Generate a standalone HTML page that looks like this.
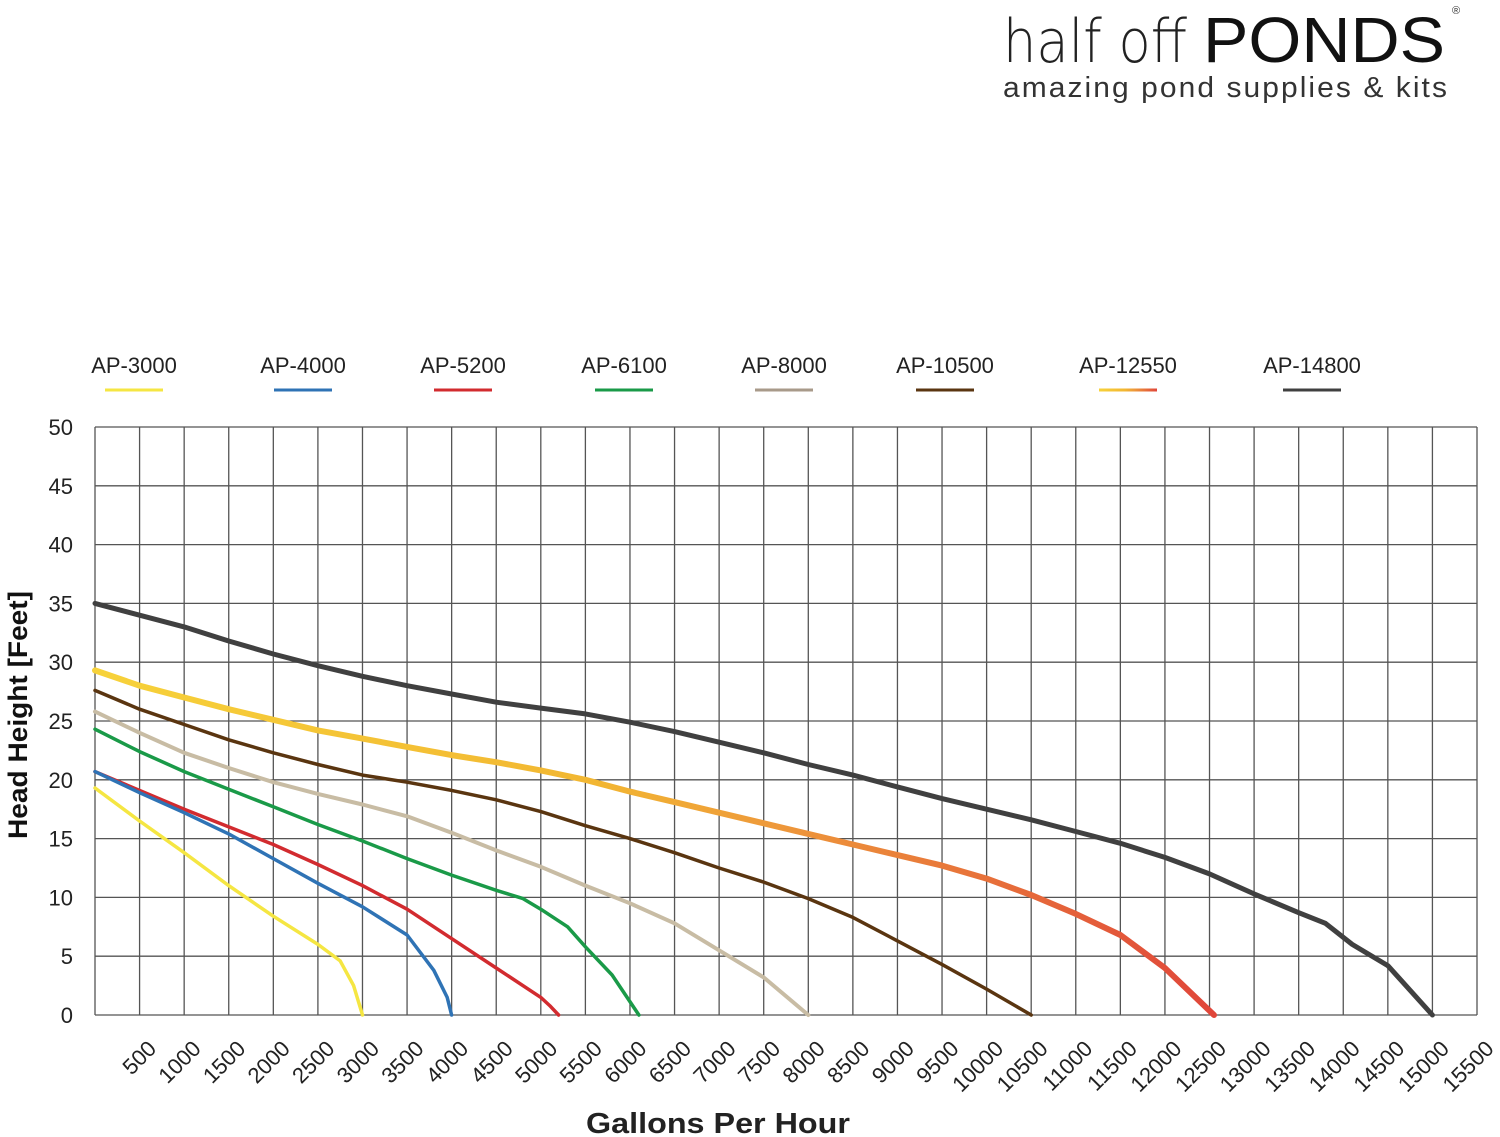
<!DOCTYPE html>
<html><head><meta charset="utf-8"><style>
body{margin:0;background:#fff}
svg{display:block}
text{font-family:"Liberation Sans",sans-serif}
</style></head><body>
<svg id="s" width="1500" height="1137" xmlns="http://www.w3.org/2000/svg">
<defs><linearGradient id="og" x1="0" x2="1" y1="0" y2="0"><stop offset="0" stop-color="#f7d23a"/><stop offset="0.45" stop-color="#f2b632"/><stop offset="0.6" stop-color="#ee9a3a"/><stop offset="1" stop-color="#e0463a"/></linearGradient></defs>
<text x="1003" y="62" font-size="60" fill="#222" style="font-family:'DejaVu Sans',sans-serif;font-weight:200" textLength="184" lengthAdjust="spacingAndGlyphs">half off</text>
<text x="1203" y="62" font-size="64" fill="#111" textLength="242" lengthAdjust="spacingAndGlyphs">PONDS</text>
<text x="1452" y="14" font-size="11" fill="#333">®</text>
<text x="1003" y="97" font-size="29" fill="#333" letter-spacing="2" textLength="446" lengthAdjust="spacingAndGlyphs">amazing pond supplies &amp; kits</text>
<g id="grid" stroke="#555" stroke-width="1.3" fill="none"></g>
<g id="lab" font-size="21" fill="#222"></g>
<g id="lines" fill="none" stroke-linejoin="round" stroke-linecap="round"></g>
<text transform="translate(27,715) rotate(-90)" text-anchor="middle" font-size="27" font-weight="bold" fill="#111" textLength="248" lengthAdjust="spacingAndGlyphs">Head Height [Feet]</text>
<text x="718" y="1133" text-anchor="middle" font-size="29" font-weight="bold" fill="#222" textLength="264" lengthAdjust="spacingAndGlyphs">Gallons Per Hour</text>
</svg>
<script>
const NS="http://www.w3.org/2000/svg";
const X=g=>95+g*(1382/15500), Y=h=>1015-h*11.76;
function el(p,t,a,txt){const e=document.createElementNS(NS,t);for(const k in a)e.setAttribute(k,a[k]);if(txt)e.textContent=txt;p.appendChild(e);return e;}
const grid=document.getElementById('grid'),lab=document.getElementById('lab'),lines=document.getElementById('lines');
for(let i=0;i<=31;i++){const x=X(i*500);el(grid,'line',{x1:x,x2:x,y1:Y(50),y2:Y(0)});}
for(let i=0;i<=10;i++){const y=Y(i*5);el(lab,'text',{x:73,y:y+8,'text-anchor':'end','font-size':22},String(i*5));el(grid,'line',{x1:95,x2:1477,y1:y,y2:y});}
for(let i=1;i<=31;i++){const x=X(i*500)+18;el(lab,'text',{transform:`translate(${x},1050) rotate(-45)`,'text-anchor':'end','font-size':22},String(i*500));}
const leg=[["AP-3000",134,"#f5e642"],["AP-4000",303,"#2f73b5"],["AP-5200",463,"#d22b2f"],["AP-6100",624,"#1a9a48"],["AP-8000",784,"#a89a8a"],["AP-10500",945,"#5a3510"],["AP-12550",1128,"url(#og)"],["AP-14800",1312,"#404040"]];
leg.forEach(([n,c,col])=>{el(lab,'text',{x:c,y:373,'text-anchor':'middle','font-size':22},n);el(lines,'rect',{x:c-29,y:388.5,width:58,height:3,fill:col,stroke:'none'});});
const S=[
["#404040",5,[[0,35],[500,34],[1000,33],[1500,31.8],[2000,30.7],[2500,29.7],[3000,28.8],[3500,28],[4000,27.3],[4500,26.6],[5000,26.1],[5500,25.6],[6000,24.9],[6500,24.1],[7000,23.2],[7500,22.3],[8000,21.3],[8500,20.4],[9000,19.4],[9500,18.4],[10000,17.5],[10500,16.6],[11000,15.6],[11500,14.6],[12000,13.4],[12500,12],[13000,10.3],[13500,8.7],[13800,7.8],[14100,6],[14500,4.2],[15000,0]]],
["url(#og)",6,[[0,29.3],[500,28],[1000,27],[1500,26],[2000,25.1],[2500,24.2],[3000,23.5],[3500,22.8],[4000,22.1],[4500,21.5],[5000,20.8],[5500,20],[6000,19],[6500,18.1],[7000,17.2],[7500,16.3],[8000,15.4],[8500,14.5],[9000,13.6],[9500,12.7],[10000,11.6],[10500,10.2],[11000,8.6],[11500,6.8],[12000,4],[12550,0]]],
["#5a3510",3.5,[[0,27.6],[500,26],[1000,24.7],[1500,23.4],[2000,22.3],[2500,21.3],[3000,20.4],[3500,19.8],[4000,19.1],[4500,18.3],[5000,17.3],[5500,16.1],[6000,15],[6500,13.8],[7000,12.5],[7500,11.3],[8000,9.9],[8500,8.3],[9000,6.3],[9500,4.3],[10000,2.2],[10500,0]]],
["#c8bca4",4,[[0,25.8],[500,24],[1000,22.3],[1500,21],[2000,19.8],[2500,18.8],[3000,17.9],[3500,16.9],[4000,15.5],[4500,14],[5000,12.6],[5500,11],[6000,9.5],[6500,7.8],[7000,5.5],[7500,3.2],[8000,0]]],
["#1a9a48",3.5,[[0,24.3],[500,22.4],[1000,20.7],[1500,19.2],[2000,17.7],[2500,16.2],[3000,14.8],[3500,13.3],[4000,11.9],[4500,10.6],[4800,9.9],[5000,9],[5300,7.5],[5500,5.8],[5800,3.4],[6100,0]]],
["#d22b2f",3.5,[[0,20.7],[1000,17.5],[2000,14.5],[2500,12.8],[3000,11],[3500,9],[4000,6.5],[4500,4],[5000,1.5],[5100,0.8],[5200,0]]],
["#2f73b5",3.5,[[0,20.7],[500,18.9],[1000,17.2],[1500,15.4],[2000,13.3],[2500,11.2],[3000,9.2],[3500,6.8],[3800,3.8],[3950,1.5],[4000,0]]],
["#f5e642",3.5,[[0,19.3],[500,16.5],[1000,13.8],[1500,11],[2000,8.4],[2500,6],[2750,4.6],[2900,2.5],[3000,0]]]
];
S.forEach(([c,w,p])=>{el(lines,'polyline',{points:p.map(([g,h])=>X(g).toFixed(1)+","+Y(h).toFixed(1)).join(" "),stroke:c,'stroke-width':w});});
</script>
</body></html>
